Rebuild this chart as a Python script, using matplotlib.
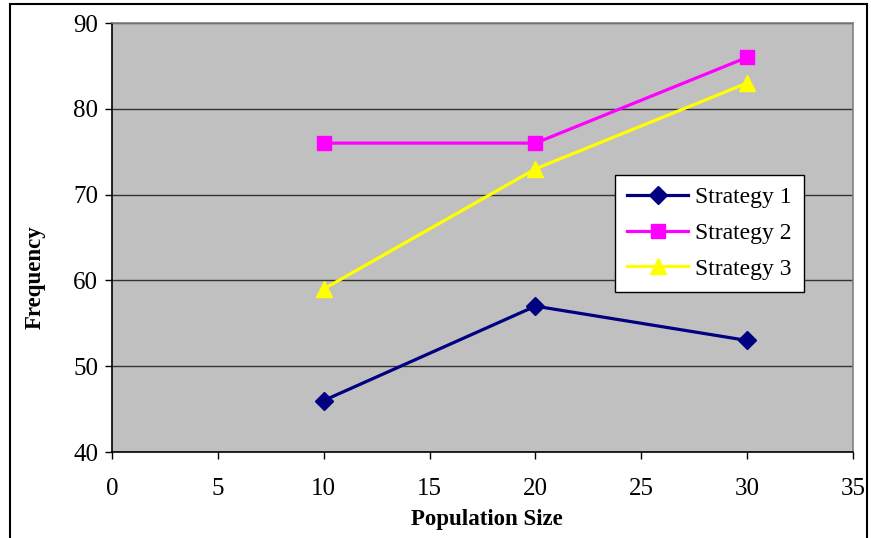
import matplotlib
matplotlib.use("Agg")
import matplotlib.pyplot as plt
from matplotlib.patches import Rectangle

pop_size = [10, 20, 30]
strategy1 = [46, 57, 53]
strategy2 = [76, 76, 86]
strategy3 = [59, 73, 83]
labels = ["Strategy 1", "Strategy 2", "Strategy 3"]

NAVY, MAGENTA, YELLOW = "#000080", "#ff00ff", "#ffff00"

plt.rcParams["font.family"] = ["Liberation Serif", "DejaVu Serif"]

fig = plt.figure(figsize=(8.71, 5.38), dpi=100)
ax = fig.add_axes([112 / 871, 1 - 452 / 538, 741 / 871, 429 / 538])
ax.set_facecolor("#c0c0c0")

ax.plot(pop_size, strategy1, color=NAVY, lw=2.3, marker="D", ms=9, label=labels[0])
ax.plot(pop_size, strategy2, color=MAGENTA, lw=2.3, marker="s", ms=10, label=labels[1])
ax.plot(pop_size, strategy3, color=YELLOW, lw=2.3, marker="^", ms=11, label=labels[2])

ax.set_xlim(0, 35)
ax.set_ylim(40, 90)
ax.set_xticks(range(0, 36, 5))
ax.set_yticks(range(40, 91, 10))
ax.yaxis.grid(True, color="#333333", lw=1)
ax.set_axisbelow(True)
ax.tick_params(direction="out", length=5, width=1, labelsize=18)
ax.tick_params(axis="x", pad=14)
ax.tick_params(axis="y", pad=5)

for s in ("left", "bottom"):
    ax.spines[s].set_color("black")
    ax.spines[s].set_linewidth(1.2)
for s in ("top", "right"):
    ax.spines[s].set_color("#808080")
    ax.spines[s].set_linewidth(1.2)

fig.text(487 / 871, 1 - 520 / 538, "Population Size", fontsize=16.5,
         fontweight="bold", ha="center", va="center")
fig.text(35 / 871, 1 - 277 / 538, "Frequency", fontsize=16.5,
         fontweight="bold", ha="center", va="center", rotation=90)

leg = ax.legend(loc="upper left", bbox_to_anchor=(615 / 871, 1 - 175 / 538),
                bbox_transform=fig.transFigure, fontsize=17, frameon=True,
                fancybox=False, edgecolor="black", framealpha=1,
                handlelength=2.6, handletextpad=0.3, borderpad=0.5,
                labelspacing=0.6, borderaxespad=0)
leg.get_frame().set_linewidth(1)

fig.patches.append(Rectangle((10 / 871, -0.1), 857 / 871, 1.1 - 4 / 538,
                             transform=fig.transFigure, fill=False,
                             edgecolor="black", lw=1.5))

fig.savefig("out.png", dpi=100)
